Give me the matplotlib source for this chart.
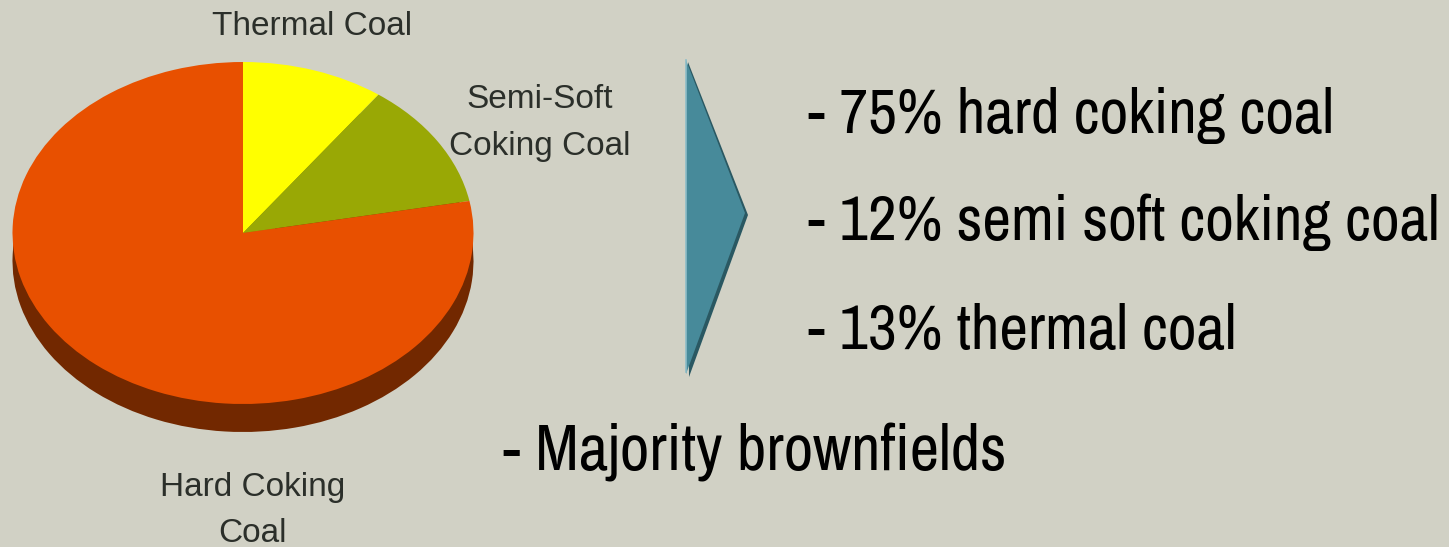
import matplotlib
matplotlib.use("Agg")
import matplotlib.pyplot as plt
from matplotlib.patches import Polygon, Rectangle
from matplotlib.textpath import TextPath
from matplotlib.font_manager import FontProperties

# ---- data ----
categories = ["Thermal Coal", "Semi-Soft\nCoking Coal", "Hard Coking\nCoal"]
shares = [10, 12, 78]          # pie wedge sizes as drawn
top_colors = ["#FFFF00", "#99A805", "#E85000"]
side_colors = ["#8A8A00", "#525A00", "#722800"]
bullets = ["- 75% hard coking coal", "- 12% semi soft coking coal", "- 13% thermal coal"]
footer = "- Majority brownfields"

BG = "#D1D1C5"
W, H = 1449, 547
fig = plt.figure(figsize=(W / 100, H / 100), dpi=100, facecolor=BG)

# ---- pie axes (elliptical, pixel-mapped) ----
cx, cy, rx, ry, depth = 243, 233, 230.5, 171, 28
axp = fig.add_axes([0, 0, 1, 1])
d = depth / ry
axp.pie(shares, startangle=90, counterclock=False, colors=side_colors,
        center=(0, -d), radius=1, wedgeprops=dict(linewidth=0))
axp.add_patch(Rectangle((-1, -d), 2, d, facecolor=side_colors[2], linewidth=0))
axp.pie(shares, startangle=90, counterclock=False, colors=top_colors,
        center=(0, 0), radius=1, wedgeprops=dict(linewidth=0))
axp.set_aspect("auto")
axp.set_xlim((0 - cx) / rx, (W - cx) / rx)
axp.set_ylim((cy - H) / ry, (cy - 0) / ry)
axp.axis("off")

# ---- overlay axes in pixel coordinates ----
ax = fig.add_axes([0, 0, 1, 1], facecolor="none")
ax.set_xlim(0, W)
ax.set_ylim(H, 0)
ax.axis("off")

narrow = ["Archivo Narrow", "Roboto Condensed", "DejaVu Sans"]
labfont = ["Liberation Sans", "DejaVu Sans"]
lab_col = "#2B2F2A"


def pt_for_cap(family, cap_px):
    fp = FontProperties(family=family)
    h = TextPath((0, 0), "H", size=100, prop=fp).get_extents().height / 100.0
    return cap_px / h * 72.0 / 100.0


lab_pt = pt_for_cap(labfont[0], 23)
big_pt = pt_for_cap(narrow[0], 43)
foot_pt = pt_for_cap(narrow[0], 44)

# pie labels
ax.text(312, 35, "Thermal Coal", ha="center", va="baseline", fontsize=lab_pt,
        color=lab_col, family=labfont)
ax.text(540, 108, "Semi-Soft", ha="center", va="baseline", fontsize=lab_pt,
        color=lab_col, family=labfont)
ax.text(540, 155, "Coking Coal", ha="center", va="baseline", fontsize=lab_pt,
        color=lab_col, family=labfont)
ax.text(253, 496, "Hard Coking", ha="center", va="baseline", fontsize=lab_pt,
        color=lab_col, family=labfont)
ax.text(253, 542, "Coal", ha="center", va="baseline", fontsize=lab_pt,
        color=lab_col, family=labfont)

# chevron arrow
ax.add_patch(Polygon([(688, 62), (748, 215), (689, 377)], closed=True,
                     facecolor="#2A5862", edgecolor="none"))
ax.add_patch(Polygon([(686, 60), (745, 213), (686, 374)], closed=True,
                     facecolor="#478A9A", edgecolor="none"))
ax.plot([685.5, 685.5], [60, 372], color="#8DBDC8", lw=1.2)

# bullet texts
baselines = [133, 240, 349]
for t, yb in zip(bullets, baselines):
    ax.text(808, yb, t, ha="left", va="baseline", fontsize=big_pt,
            color="black", family=narrow)
ax.text(503, 470, footer, ha="left", va="baseline", fontsize=foot_pt,
        color="black", family=narrow)

fig.savefig("out.png", dpi=100, facecolor=BG)
